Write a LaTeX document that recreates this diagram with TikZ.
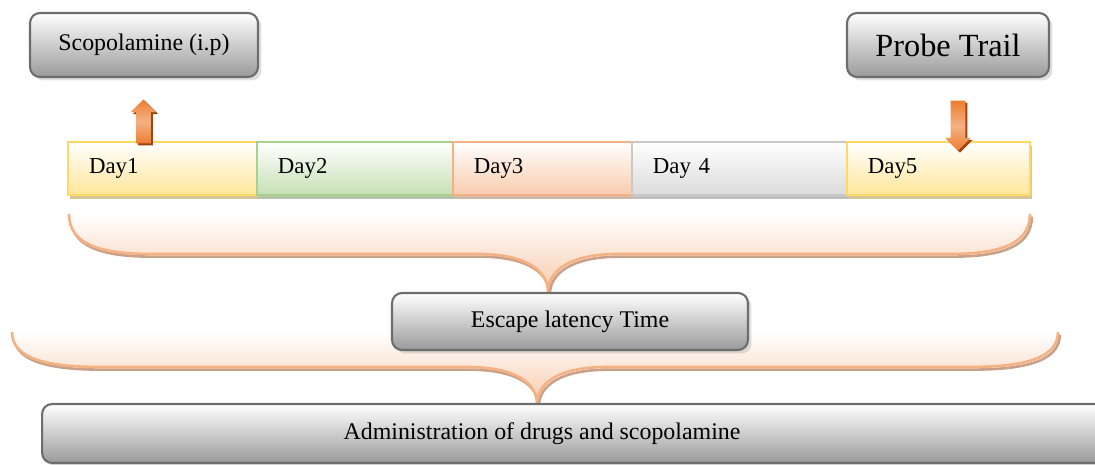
\documentclass[tikz,border=0pt]{standalone}
\usepackage{fontspec}
\setmainfont{Liberation Serif}
\usetikzlibrary{positioning,shapes.arrows,shadows}
\definecolor{boxline}{HTML}{6D6D6D}
\definecolor{boxgray}{HTML}{9A9A9A}
\definecolor{yelline}{HTML}{FFD966}
\definecolor{yelfill}{HTML}{FFE699}
\definecolor{grnline}{HTML}{A9D18E}
\definecolor{grnfill}{HTML}{C5E0B4}
\definecolor{orgline}{HTML}{F4B183}
\definecolor{orgfill}{HTML}{F8CBAD}
\definecolor{gryline}{HTML}{C9C9C9}
\definecolor{gryfill}{HTML}{DBDBDB}
\definecolor{arrorange}{HTML}{ED7D31}
\definecolor{arrdark}{HTML}{A0450F}
\definecolor{brshade}{HTML}{C9A088}
\tikzset{
  gb/.style={rectangle, rounded corners=0.2cm, draw=boxline, line width=1.2pt, top color=white, bottom color=boxgray, drop shadow={shadow xshift=0.07cm, shadow yshift=-0.07cm, opacity=0.25}},
  db/.style={rectangle, draw=#1line, line width=1.2pt, top color=white, bottom color=#1fill, minimum height=1.06cm, inner xsep=0.42cm, outer sep=0pt, align=left, font=\fontsize{13}{15}\selectfont, drop shadow={shadow xshift=0.04cm, shadow yshift=-0.09cm, fill=#1line!70!black, opacity=0.55}},
  ba/.style={single arrow, single arrow head extend=0.11cm, inner sep=0.14cm, minimum width=0.5cm, draw=none, top color=arrorange, bottom color=arrorange, middle color=orgline, drop shadow={shadow xshift=0.04cm, shadow yshift=-0.04cm, fill=arrdark, opacity=1}},
  brace/.style={draw=orgline, line width=1.5pt, top color=white, bottom color=orgfill, preaction={draw=brshade, line width=1.5pt, transform canvas={xshift=1pt, yshift=-1.5pt}}}
}
\begin{document}
\begin{tikzpicture}[x=0.02cm, y=-0.02cm]
	\useasboundingbox (0,0) rectangle (1095,465);
	% braces first, boxes on top
	\coordinate (b1l) at (69,214);
	\coordinate (b1tip) at (548,292);
	\coordinate (b1r) at (1030,214);
	\coordinate (b2l) at (12,332);
	\coordinate (b2tip) at (537,404);
	\coordinate (b2r) at (1058,332);
	\draw[brace] (b1l) .. controls (69,244) and (100,254) .. (150,254) -- (478,254) .. controls (528,254) and (548,272) .. (b1tip) .. controls (548,272) and (568,254) .. (618,254) -- (950,254) .. controls (1000,254) and (1030,244) .. (b1r);
	\draw[brace] (b2l) .. controls (12,358) and (45,367) .. (100,367) -- (467,367) .. controls (517,367) and (537,384) .. (b2tip) .. controls (537,384) and (557,367) .. (607,367) -- (970,367) .. controls (1025,367) and (1058,358) .. (b2r);
	%
	\node[gb, minimum width=4.56cm, minimum height=1.28cm, font=\fontsize{13.6}{16}\selectfont] (scop) at (144,45) {Scopolamine (i.p)};
	\node[gb, minimum width=4.04cm, minimum height=1.28cm, font=\fontsize{18.4}{22}\selectfont] (probe) at (948,45) {Probe Trail};
	% days
	\node[db=yel, text width=2.94cm] (day1) at (162.5,168.5) {Day1};
	\node[db=grn, text width=3.08cm, right=0pt of day1] (day2) {Day2};
	\node[db=org, text width=2.74cm, right=0pt of day2] (day3) {Day3};
	\node[db=gry, text width=3.46cm, right=0pt of day3] (day4) {Day 4};
	\node[db=yel, text width=2.82cm, right=0pt of day4] (day5) {Day5};
	%
	\node[ba, minimum height=0.88cm, rotate=90] (dosearrow) at (143.5,125) {};
	\node[ba, minimum height=1.0cm, rotate=-90] (probearrow) at (958,122) {};
	%
	\node[gb, minimum width=7.12cm, minimum height=1.14cm, font=\fontsize{13.6}{16}\selectfont] (escape) at (570,321.5) {Escape latency Time};
	\node[gb, minimum width=21.36cm, minimum height=1.18cm, font=\fontsize{13.6}{16}\selectfont] (admin) at (576,433.5) {Administration of drugs and scopolamine\rule{1.36cm}{0pt}};
\end{tikzpicture}
\end{document}
